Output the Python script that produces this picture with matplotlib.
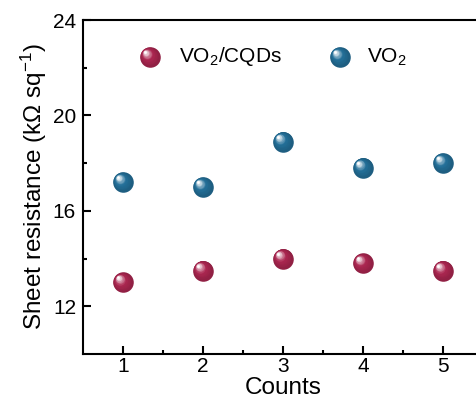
import numpy as np
import matplotlib
matplotlib.use('Agg')
import matplotlib.pyplot as plt
from matplotlib import transforms
from matplotlib.colors import to_rgb

counts = [1, 2, 3, 4, 5]
vo2_cqds = [13.0, 13.5, 14.0, 13.8, 13.5]
vo2 = [17.2, 17.0, 18.9, 17.8, 18.0]

red = '#ab2650'
blue = '#236f98'

plt.rcParams['font.family'] = ['Liberation Sans', 'DejaVu Sans']
plt.rcParams['mathtext.fontset'] = 'custom'
plt.rcParams['mathtext.rm'] = 'Liberation Sans'
plt.rcParams['mathtext.it'] = 'Liberation Sans'


def sphere(ax, x, y, color, trans=None, diam=14.8, n=16):
    # shaded ball: base disc, then lighter discs shrinking toward the upper-left
    if trans is None:
        trans = ax.transData
    fig = ax.figure
    base = np.array(to_rgb(color))
    dark = base * 0.85
    ax.scatter(x, y, s=diam ** 2, color=dark, transform=trans, zorder=3,
               linewidths=0, clip_on=False)
    r = diam / 2
    for i in range(n):
        t = i / (n - 1)
        rr = r * (0.92 - 0.8 * t)
        off = (r - rr) * 0.55
        if t < 0.45:
            c = dark + (base - dark) * (t / 0.45)
        else:
            c = base + (np.ones(3) - base) * ((t - 0.45) / 0.55) ** 1.2
        tr = transforms.offset_copy(trans, fig=fig, x=-off, y=off, units='points')
        ax.scatter(x, y, s=(2 * rr) ** 2, color=c, transform=tr, zorder=3 + t,
                   linewidths=0, clip_on=False)


fig = plt.figure(figsize=(4.77, 4.05), dpi=100)
ax = fig.add_axes([83 / 477, 1 - 354 / 405, 400 / 477, 334 / 405])

sphere(ax, counts, vo2_cqds, red)
sphere(ax, counts, vo2, blue)

ax.set_xlim(0.5, 5.5)
ax.set_ylim(10, 24)
ax.set_xticks(counts)
ax.set_xticks([1.5, 2.5, 3.5, 4.5], minor=True)
ax.set_yticks([12, 16, 20, 24])
ax.set_yticks([14, 18, 22], minor=True)
ax.tick_params(which='both', direction='in', width=1.5, labelsize=15,
               top=False, right=False)
ax.tick_params(axis='x', pad=2)
ax.tick_params(axis='y', pad=5)
ax.tick_params(which='major', length=6)
ax.tick_params(which='minor', length=3)
for sp in ax.spines.values():
    sp.set_linewidth(1.5)

ax.set_xlabel('Counts', fontsize=17.5, labelpad=1)
ax.set_ylabel('Sheet resistance (k\u03a9 sq$^{-1}$)', fontsize=17.5, labelpad=3)

# legend
ly = 1 - (57 - 20) / 334
sphere(ax, [(150 - 83) / 400], [ly], red, trans=ax.transAxes)
ax.text((179 - 83) / 400, ly, 'VO$_2$/CQDs', transform=ax.transAxes,
        fontsize=15, va='center', ha='left')
sphere(ax, [(340 - 83) / 400], [ly], blue, trans=ax.transAxes)
ax.text((367 - 83) / 400, ly, 'VO$_2$', transform=ax.transAxes,
        fontsize=15, va='center', ha='left')

fig.savefig('out.png', dpi=100)
